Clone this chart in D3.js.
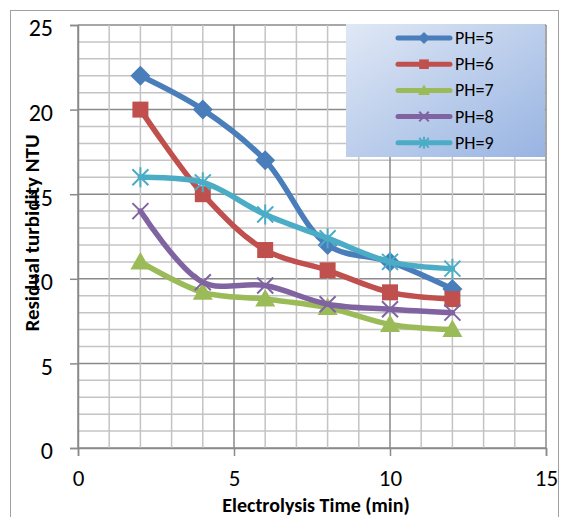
<!DOCTYPE html>
<html><head><meta charset="utf-8">
<script src="https://cdn.jsdelivr.net/npm/d3@7"></script>
<style>body{margin:0;background:#fff}svg{display:block;font-family:Carlito,Lato,"Liberation Sans",sans-serif}</style>
</head><body><svg id="c" width="568" height="517"></svg>
<script>
const times = [2, 4, 6, 8, 10, 12];
const seriesNames = ["PH=5", "PH=6", "PH=7", "PH=8", "PH=9"];
const ph5 = [22, 20, 17, 12, 11, 9.4];
const ph6 = [20, 15, 11.7, 10.5, 9.2, 8.8];
const ph7 = [11, 9.2, 8.8, 8.3, 7.3, 7.0];
const ph8 = [14, 9.8, 9.6, 8.5, 8.2, 8.0];
const ph9 = [16, 15.7, 13.8, 12.4, 11.0, 10.6];
const xTicks = [0, 5, 10, 15];
const yTicks = [0, 5, 10, 15, 20, 25];
const colors = ["#4A7EBB", "#C0504D", "#9BBB59", "#8064A2", "#4BACC6"];
const markers = ["diamond", "square", "triangle", "x", "star"];
const allSeries = [ph5, ph6, ph7, ph8, ph9];

const svg = d3.select("#c");
const L = 78, R = 546, T = 25, B = 448;
const x = d3.scaleLinear().domain([0, 15]).range([L, R]);
const y = d3.scaleLinear().domain([0, 25]).range([B, T]);

// outer border
svg.append("rect").attr("x", 10.5).attr("y", 10.5).attr("width", 548).attr("height", 520)
  .attr("fill", "none").attr("stroke", "#a0a0a0").attr("stroke-width", 1);

// grid
const g = svg.append("g");
d3.range(0, 26, 1).forEach(v => {
  g.append("line").attr("x1", L).attr("x2", R).attr("y1", y(v)).attr("y2", y(v))
    .attr("stroke", v % 5 === 0 ? "#8a8a8a" : "#c4c4c4").attr("stroke-width", 1.5);
});
d3.range(0, 16, 1).forEach(v => {
  g.append("line").attr("y1", T).attr("y2", B).attr("x1", x(v)).attr("x2", x(v))
    .attr("stroke", v % 5 === 0 ? "#8a8a8a" : "#c4c4c4").attr("stroke-width", 1.5);
});

// axes
const yAxis = d3.axisLeft(y).tickValues(yTicks).tickSize(8).tickPadding(17);
const xAxis = d3.axisBottom(x).tickValues(xTicks).tickSize(8).tickPadding(16);
const ya = svg.append("g").attr("transform", `translate(${L},0)`).call(yAxis);
const xa = svg.append("g").attr("transform", `translate(0,${B})`).call(xAxis);
[ya, xa].forEach(a => {
  a.select(".domain").attr("stroke", "#8a8a8a").attr("stroke-width", 1.5);
  a.selectAll(".tick line").attr("stroke", "#8a8a8a").attr("stroke-width", 1.5);
  a.selectAll(".tick text").attr("fill", "#000").style("font-size", "24px")
    .style("font-family", "Carlito,Lato,'Liberation Sans',sans-serif");
});
ya.selectAll(".tick text").attr("dy", "0.45em");
xa.selectAll(".tick text").style("font-size", "23px").attr("dy", "0.63em");

// axis titles
svg.append("text").attr("x", 316).attr("y", 512).attr("text-anchor", "middle")
  .style("font-size", "20px").style("font-weight", "bold").text("Electrolysis Time (min)");
svg.append("text").attr("transform", "translate(39,233) rotate(-90)").attr("text-anchor", "middle")
  .style("font-size", "21px").style("font-weight", "bold").text("Residual turbidity NTU");

// lines
const line = d3.line().x(d => x(d[0])).y(d => y(d[1])).curve(d3.curveCatmullRom.alpha(0.5));

function drawMarker(sel, type, cx, cy, s, color) {
  if (type === "diamond") {
    sel.append("path").attr("d", `M${cx},${cy - s}L${cx + s},${cy}L${cx},${cy + s}L${cx - s},${cy}Z`).attr("fill", color);
  } else if (type === "square") {
    sel.append("rect").attr("x", cx - s * 0.8).attr("y", cy - s * 0.8).attr("width", s * 1.6).attr("height", s * 1.6).attr("fill", color);
  } else if (type === "triangle") {
    sel.append("path").attr("d", `M${cx},${cy - s}L${cx + s},${cy + s * 0.75}L${cx - s},${cy + s * 0.75}Z`).attr("fill", color);
  } else if (type === "x") {
    const d = s * 0.8;
    sel.append("path").attr("d", `M${cx - d},${cy - d}L${cx + d},${cy + d}M${cx - d},${cy + d}L${cx + d},${cy - d}`)
      .attr("stroke", color).attr("stroke-width", 2);
  } else if (type === "star") {
    const d = s * 0.8;
    sel.append("path").attr("d", `M${cx - d},${cy - d}L${cx + d},${cy + d}M${cx - d},${cy + d}L${cx + d},${cy - d}M${cx},${cy - s}L${cx},${cy + s}`)
      .attr("stroke", color).attr("stroke-width", 2);
  }
}

allSeries.forEach((vals, i) => {
  const pts = times.map((t, j) => [t, vals[j]]);
  const sg = svg.append("g");
  sg.append("path").attr("d", line(pts)).attr("fill", "none").attr("stroke", colors[i])
    .attr("stroke-width", 5.5).attr("stroke-linejoin", "round").attr("stroke-linecap", "round");
  pts.forEach(p => drawMarker(sg, markers[i], x(p[0]), y(p[1]), 10, colors[i]));
});

// legend
const defs = svg.append("defs");
const grad = defs.append("linearGradient").attr("id", "lg").attr("x1", "0").attr("y1", "0").attr("x2", "1").attr("y2", "1");
grad.append("stop").attr("offset", "0").attr("stop-color", "#e0e8f5");
grad.append("stop").attr("offset", "1").attr("stop-color", "#98b4e2");
svg.append("rect").attr("x", 346).attr("y", 24).attr("width", 199).attr("height", 133).attr("fill", "url(#lg)");
seriesNames.forEach((n, i) => {
  const ly = 38 + i * 26.2;
  const lg = svg.append("g");
  lg.append("line").attr("x1", 398).attr("x2", 450).attr("y1", ly).attr("y2", ly)
    .attr("stroke", colors[i]).attr("stroke-width", 5).attr("stroke-linecap", "round");
  drawMarker(lg, markers[i], 424, ly, 6, colors[i]);
  lg.append("text").attr("x", 455).attr("y", ly + 6).style("font-size", "18px").attr("fill", "#000").text(n);
});
</script></body></html>
